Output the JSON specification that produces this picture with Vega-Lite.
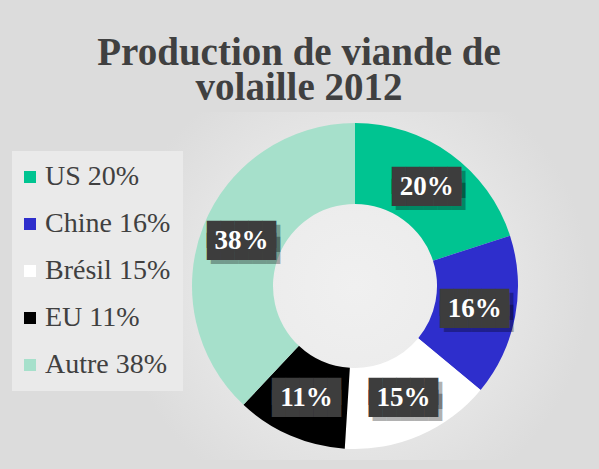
{
  "$schema": "https://vega.github.io/schema/vega-lite/v6.json",
  "autosize": {"type": "none"},
  "width": 470,
  "height": 348,
  "padding": {"left": 120, "top": 112, "right": 9, "bottom": 9},
  "background": "#dcdcdc",
  "view": {
    "stroke": null,
    "fill": {
      "gradient": "radial",
      "x1": 0.5, "y1": 0.5, "x2": 0.5, "y2": 0.5,
      "r1": 0, "r2": 0.5,
      "stops": [
        {"offset": 0, "color": "#f0f0f0"},
        {"offset": 0.4, "color": "#ececec"},
        {"offset": 1, "color": "#dcdcdc"}
      ]
    }
  },
  "title": {
    "text": ["Production de viande de", "volaille 2012"],
    "anchor": "middle",
    "frame": "group",
    "orient": "top",
    "offset": 4,
    "dx": -56,
    "font": "Liberation Serif",
    "fontSize": 39,
    "fontWeight": "bold",
    "color": "#404040",
    "lineHeight": 35
  },
  "data": {
    "values": [
      {"pays": "US", "label": "US 20%", "pct": "20%", "value": 20, "ordre": 1},
      {"pays": "Chine", "label": "Chine 16%", "pct": "16%", "value": 16, "ordre": 2},
      {"pays": "Brésil", "label": "Brésil 15%", "pct": "15%", "value": 15, "ordre": 3},
      {"pays": "EU", "label": "EU 11%", "pct": "11%", "value": 11, "ordre": 4},
      {"pays": "Autre", "label": "Autre 38%", "pct": "38%", "value": 38, "ordre": 5}
    ]
  },
  "encoding": {
    "theta": {"field": "value", "type": "quantitative", "stack": true},
    "order": {"field": "ordre", "type": "quantitative"}
  },
  "layer": [
    {
      "mark": {"type": "arc", "outerRadius": 163, "innerRadius": 82, "strokeWidth": 0},
      "encoding": {
        "color": {
          "field": "label",
          "type": "nominal",
          "scale": {
            "domain": ["US 20%", "Chine 16%", "Brésil 15%", "EU 11%", "Autre 38%"],
            "range": ["#00c491", "#2e2ecc", "#ffffff", "#000000", "#a6e0cb"]
          },
          "legend": {
            "title": null,
            "orient": "none",
            "legendX": -108,
            "legendY": 39,
            "fillColor": "#eaeaea",
            "padding": 12,
            "rowPadding": 19,
            "symbolType": "square",
            "symbolSize": 144,
            "symbolStrokeWidth": 0,
            "symbolOffset": -8,
            "labelFont": "Liberation Serif",
            "labelFontSize": 28,
            "labelColor": "#404040",
            "labelOffset": 1,
            "labelLimit": 300
          }
        }
      }
    },
    {
      "mark": {"type": "text", "radius": 122, "text": "█████", "font": "DejaVu Sans Mono", "fontSize": 23, "baseline": "middle", "align": "center", "color": "#000000", "opacity": 0.3, "dx": 4, "dy": -2}
    },
    {
      "mark": {"type": "text", "radius": 122, "text": "█████", "font": "DejaVu Sans Mono", "fontSize": 23, "baseline": "middle", "align": "center", "color": "#000000", "opacity": 0.3, "dx": 4, "dy": 10}
    },
    {
      "mark": {"type": "text", "radius": 122, "text": "█████", "font": "DejaVu Sans Mono", "fontSize": 23, "baseline": "middle", "align": "center", "color": "#3d3d3d", "dy": -6}
    },
    {
      "mark": {"type": "text", "radius": 122, "text": "█████", "font": "DejaVu Sans Mono", "fontSize": 23, "baseline": "middle", "align": "center", "color": "#3d3d3d", "dy": 6}
    },
    {
      "mark": {"type": "text", "radius": 122, "font": "Liberation Serif", "fontSize": 27, "fontWeight": "bold", "baseline": "middle", "align": "center", "color": "#ffffff"},
      "encoding": {"text": {"field": "pct", "type": "nominal"}}
    }
  ]
}
